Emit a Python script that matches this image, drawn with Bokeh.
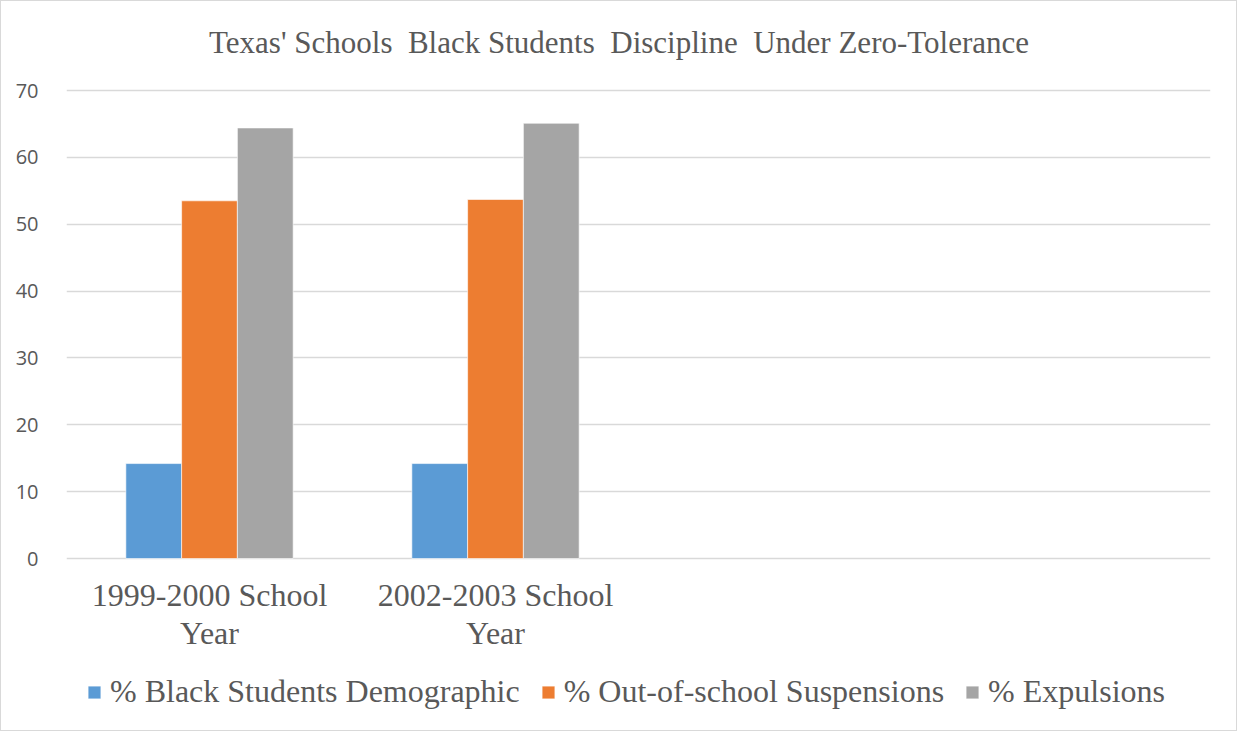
from bokeh.plotting import figure
from bokeh.models import Legend, LegendItem, FactorRange, Range1d, ColumnDataSource, Label
from bokeh.transform import dodge
from bokeh.core.properties import value
from bokeh.embed import file_html
from bokeh.resources import INLINE

# ---- data ----
categories = ["1999-2000 School\nYear", "2002-2003 School\nYear"]
empty_slots = [" ", "  "]
series_names = ["% Black Students Demographic", "% Out-of-school Suspensions", "% Expulsions"]
black_demographic = [14.2, 14.2]
suspensions = [53.5, 53.7]
expulsions = [64.4, 65.1]
y_ticks = [0, 10, 20, 30, 40, 50, 60, 70]
title_text = "Texas' Schools \u00a0Black Students \u00a0Discipline \u00a0Under Zero-Tolerance"
colors = ["#5b9bd5", "#ed7d31", "#a5a5a5"]

src = ColumnDataSource(dict(cat=categories, s0=black_demographic, s1=suspensions, s2=expulsions))

# frame spans the full canvas height; pixel scale 468 px per 70 units
PX = 468 / 70.0
H = 731
p = figure(width=1237, height=H, output_backend="svg", toolbar_location=None,
           x_range=FactorRange(*(categories + empty_slots), range_padding=0),
           y_range=Range1d(-(H - 557) / PX, 70 + 89 / PX),
           x_axis_location=None,
           min_border_left=65, min_border_right=28, min_border_top=0, min_border_bottom=0)
p.styles = {"border": "1px solid #d9d9d9"}
p.outline_line_color = None
p.background_fill_color = "white"
p.border_fill_color = "white"

bw = 0.195
renderers = []
for i, col in enumerate(["s0", "s1", "s2"]):
    r = p.vbar(x=dodge("cat", (i - 1) * bw, range=p.x_range), top=col, width=bw,
               source=src, fill_color=colors[i], line_color="white", line_width=0.6)
    renderers.append(r)

# y axis
p.yaxis.ticker = y_ticks
p.yaxis.axis_line_color = None
p.yaxis.major_tick_line_color = None
p.yaxis.minor_tick_line_color = None
p.yaxis.major_label_text_font = "Open Sans"
p.yaxis.major_label_text_font_size = "20px"
p.yaxis.major_label_text_color = "#595959"
p.yaxis.major_label_standoff = 22

p.xgrid.grid_line_color = None
p.ygrid.grid_line_color = "#d9d9d9"
p.ygrid.grid_line_width = 1.3

# category labels under the baseline
p.text(x="cat", y=-18 / PX, text="cat", source=src, text_font=value("Liberation Serif"),
       text_font_size="32px", text_color="#595959", text_align="center",
       text_baseline="top", text_line_height=1.07)

# title
p.add_layout(Label(x=1.932, y=70 + (89 - 41) / PX, text=title_text,
                   text_font="Liberation Serif", text_font_size="31px",
                   text_color="#595959", text_align="center", text_baseline="middle"))

# legend
lg = Legend(items=[LegendItem(label=n, renderers=[r]) for n, r in zip(series_names, renderers)],
            location=(20, 22), orientation="horizontal",
            label_text_font="Liberation Serif", label_text_font_size="32px",
            label_text_color="#595959", glyph_width=16, glyph_height=16,
            label_standoff=8, spacing=20, padding=0, margin=0,
            border_line_color=None, background_fill_alpha=0)
p.add_layout(lg, "center")

open("out.html", "w").write(file_html(p, INLINE))
